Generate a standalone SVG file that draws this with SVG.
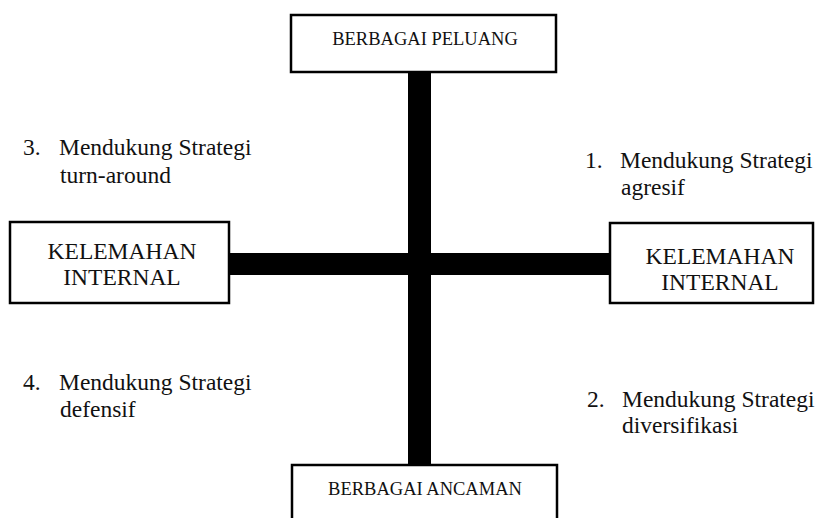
<svg xmlns="http://www.w3.org/2000/svg" width="816" height="518" viewBox="0 0 816 518">
<style>
.box{fill:#fff;stroke:#000;stroke-width:2.5}
.bar{fill:#000}
text{font-family:"Liberation Serif","Times New Roman",serif;fill:#111}
.sm{font-size:18.5px;text-anchor:middle}
.lg{font-size:23.5px;text-anchor:middle}
.q{font-size:23.5px}
</style>
<rect width="816" height="518" fill="#fff"/>
<g id="connectors">
<rect class="bar" x="408" y="72" width="23" height="393"/>
<rect class="bar" x="229" y="253" width="381" height="22"/>
</g>
<g id="peluang">
<rect class="box" x="291" y="15" width="265" height="57"/>
<text class="sm" x="425" y="45">BERBAGAI PELUANG</text>
</g>
<g id="ancaman">
<rect class="box" x="292" y="465" width="265" height="70"/>
<text class="sm" x="425" y="495">BERBAGAI ANCAMAN</text>
</g>
<g id="kelemahan-kiri">
<rect class="box" x="10" y="222" width="219" height="81"/>
<text class="lg" x="122" y="259">KELEMAHAN</text>
<text class="lg" x="122" y="285">INTERNAL</text>
</g>
<g id="kelemahan-kanan">
<rect class="box" x="610" y="223" width="203" height="80"/>
<text class="lg" x="720" y="264">KELEMAHAN</text>
<text class="lg" x="720" y="290">INTERNAL</text>
</g>
<g id="q3">
<text class="q" x="23" y="155">3.</text>
<text class="q" x="59" y="155">Mendukung Strategi</text>
<text class="q" x="60" y="183">turn-around</text>
</g>
<g id="q1">
<text class="q" x="585" y="168">1.</text>
<text class="q" x="620" y="168">Mendukung Strategi</text>
<text class="q" x="621" y="195">agresif</text>
</g>
<g id="q4">
<text class="q" x="23" y="390">4.</text>
<text class="q" x="59" y="390">Mendukung Strategi</text>
<text class="q" x="60" y="417">defensif</text>
</g>
<g id="q2">
<text class="q" x="587" y="407">2.</text>
<text class="q" x="622" y="407">Mendukung Strategi</text>
<text class="q" x="622" y="433">diversifikasi</text>
</g>
</svg>
